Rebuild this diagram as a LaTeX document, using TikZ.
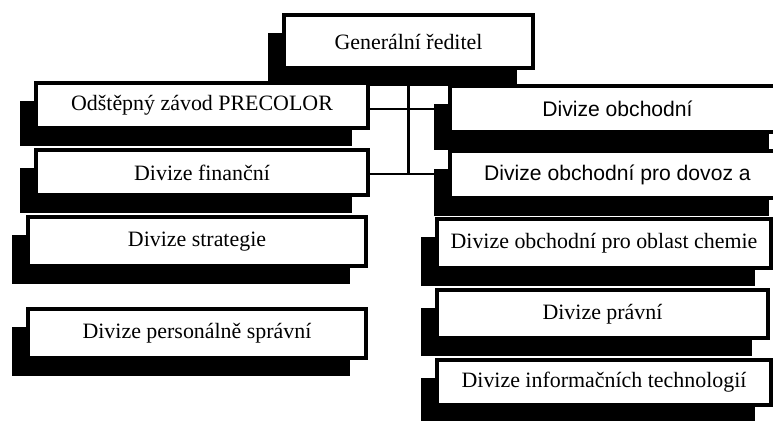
\documentclass[tikz,border=0pt]{standalone}
\usepackage{fontspec}
\setmainfont{Liberation Serif}
\newfontfamily\arialfont{Liberation Sans}
\usetikzlibrary{shadows}

\begin{document}
\begin{tikzpicture}[x=0.5bp,y=-0.5bp,
  box/.style={draw=black, line width=1.6bp, fill=white, inner sep=0pt,
    drop shadow={shadow xshift=-8bp, shadow yshift=-9bp, fill=black, opacity=1},
    font=\fontsize{11}{13}\selectfont},
  sansbox/.style={box, font=\arialfont\fontsize{10.6}{13}\selectfont},
  link/.style={line width=1.4bp}]
\useasboundingbox (0,0) rectangle (773,421);
\node[box, minimum width=124.5bp, minimum height=26.5bp] (gr) at (408.5,41.5) {Generální ředitel};
\node[box, minimum width=166bp, minimum height=22.5bp] (odst) at (202,105.5) {Odštěpný závod PRECOLOR};
\node[box, minimum width=166bp, minimum height=22.5bp] (fin) at (202,172.5) {Divize finanční};
\node[box, minimum width=169bp, minimum height=24.5bp] (strat) at (197,241.5) {Divize strategie};
\node[box, minimum width=169bp, minimum height=24.5bp] (pers) at (197,333.5) {Divize personálně správní};
\node[sansbox, minimum width=167.5bp, minimum height=23bp] (obch) at (617.5,109) {Divize obchodní};
\node[sansbox, minimum width=167.5bp, minimum height=23.5bp] (dovoz) at (617.5,174.5) {Divize obchodní pro dovoz a};
\node[box, minimum width=167bp, minimum height=24.5bp] (chem) at (604,243.5) {Divize obchodní pro oblast chemie};
\node[box, minimum width=165.5bp, minimum height=24bp] (pravni) at (602.5,314) {Divize právní};
\node[box, minimum width=167bp, minimum height=22.5bp] (info) at (604,382.5) {Divize informačních technologií};
\coordinate (j1) at (408.5,109);
\coordinate (j2) at (408.5,174);
\draw[link] (gr.south) -- (j2);
\draw[link] (odst.east |- j1) -- (obch.west |- j1);
\draw[link] (fin.east |- j2) -- (dovoz.west |- j2);
\end{tikzpicture}
\end{document}
